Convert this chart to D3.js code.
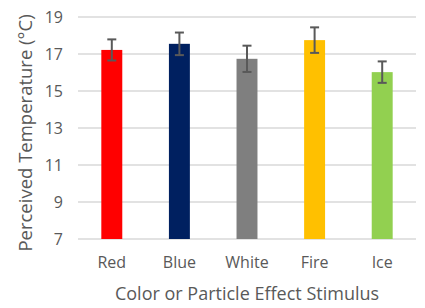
<!DOCTYPE html>
<html>
<head>
<meta charset="utf-8">
<script src="https://cdn.jsdelivr.net/npm/d3@7"></script>
<style>
  body { margin: 0; background: #fff; }
  text { font-family: "Open Sans", "Liberation Sans", sans-serif; fill: #595959; }
</style>
</head>
<body>
<script>
var w = 425;
var h = 308;

var categories = ['Red', 'Blue', 'White', 'Fire', 'Ice'];
var means = [17.22, 17.55, 16.74, 17.75, 16.02];
var errors = [0.57, 0.61, 0.71, 0.69, 0.58];
var colors = ['#FF0000', '#002060', '#7F7F7F', '#FFC000', '#92D050'];
var yTicks = [7, 9, 11, 13, 15, 17, 19];

var margin = { top: 17, right: 9, bottom: 69, left: 78 };

var svg = d3.select('body')
            .append('svg')
            .attr('width', w)
            .attr('height', h);

var x = d3.scaleBand()
          .domain(categories)
          .range([margin.left, w - margin.right])
          .paddingInner(0.69)
          .paddingOuter(0.345);

var y = d3.scaleLinear()
          .domain([7, 19])
          .range([h - margin.bottom, margin.top]);

// gridlines
svg.append('g')
   .selectAll('line')
   .data(yTicks)
   .enter().append('line')
   .attr('x1', margin.left)
   .attr('x2', w - margin.right)
   .attr('y1', d => y(d))
   .attr('y2', d => y(d))
   .attr('stroke', '#D9D9D9')
   .attr('stroke-width', 1.5);

// y axis labels
var yAxis = svg.append('g')
   .attr('transform', 'translate(' + (margin.left - 15) + ',0)')
   .call(d3.axisLeft(y).tickValues(yTicks).tickSize(0).tickPadding(0));
yAxis.select('.domain').remove();
yAxis.selectAll('text')
     .attr('fill', '#595959')
     .style('font-size', '16px')
     .attr('dy', '0.35em');

// bars
svg.selectAll('.bar')
   .data(categories)
   .enter().append('rect')
   .attr('class', 'bar')
   .attr('x', d => x(d))
   .attr('width', x.bandwidth())
   .attr('y', (d, i) => y(means[i]))
   .attr('height', (d, i) => y(7) - y(means[i]))
   .attr('fill', (d, i) => colors[i]);

// error bars
var eb = svg.append('g')
   .attr('stroke', '#595959')
   .attr('stroke-width', 2);
categories.forEach(function (c, i) {
  var cx = x(c) + x.bandwidth() / 2;
  var hi = y(means[i] + errors[i]);
  var lo = y(means[i] - errors[i]);
  eb.append('line').attr('x1', cx).attr('x2', cx).attr('y1', hi).attr('y2', lo);
  eb.append('line').attr('x1', cx - 4.5).attr('x2', cx + 4.5).attr('y1', hi).attr('y2', hi);
  eb.append('line').attr('x1', cx - 4.5).attr('x2', cx + 4.5).attr('y1', lo).attr('y2', lo);
});

// x axis labels
var xAxis = svg.append('g')
   .attr('transform', 'translate(0,' + (y(7) + 18) + ')')
   .call(d3.axisBottom(x).tickSize(0).tickPadding(0));
xAxis.select('.domain').remove();
xAxis.selectAll('text')
     .attr('fill', '#595959')
     .style('font-size', '16px')
     .attr('dy', '0.71em');

// axis titles
svg.append('text')
   .attr('x', 247)
   .attr('y', 300)
   .attr('text-anchor', 'middle')
   .style('font-size', '18px')
   .text('Color or Particle Effect Stimulus');

svg.append('text')
   .attr('transform', 'translate(32,133) rotate(-90)')
   .attr('text-anchor', 'middle')
   .style('font-size', '18.5px')
   .text('Perceived Temperature (°C)');
</script>
</body>
</html>
